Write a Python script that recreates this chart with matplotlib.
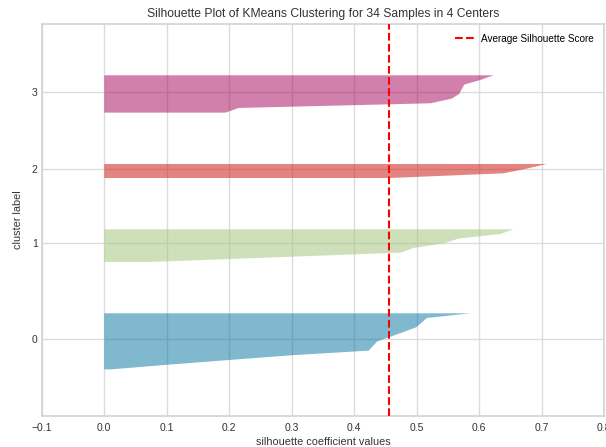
import numpy as np
import matplotlib
matplotlib.use("Agg")
import matplotlib.pyplot as plt

plt.rcParams['font.family'] = ['Liberation Sans', 'DejaVu Sans']

# Silhouette coefficients per cluster (sorted ascending)
cluster_0 = [0.012, 0.103, 0.200, 0.298, 0.423, 0.430, 0.437, 0.458, 0.479, 0.499, 0.508, 0.516, 0.586]
cluster_1 = [0.074, 0.274, 0.474, 0.495, 0.543, 0.567, 0.634, 0.655]
cluster_2 = [0.458, 0.639, 0.676, 0.708]
cluster_3 = [0.194, 0.215, 0.522, 0.556, 0.568, 0.572, 0.576, 0.602, 0.623]
clusters = [cluster_0, cluster_1, cluster_2, cluster_3]
cluster_labels = ["0", "1", "2", "3"]
colors = ["#0272a2", "#9fc377", "#ca0b03", "#a50258"]
avg_score = 0.455
x_ticks = [-0.1, 0.0, 0.1, 0.2, 0.3, 0.4, 0.5, 0.6, 0.7, 0.8]

fig = plt.figure(figsize=(6.06, 4.47), dpi=100)
ax = fig.add_axes([0.069, 0.0694, 0.928, 0.877])

n_samples = sum(len(c) for c in clusters)
y_lower = 10
ytick_pos = []
for vals, col in zip(clusters, colors):
    vals = np.sort(np.asarray(vals))
    size = len(vals)
    y_upper = y_lower + size
    ax.fill_betweenx(np.arange(y_lower, y_upper), 0, vals,
                     facecolor=col, edgecolor="none", alpha=0.5, linewidth=0)
    ytick_pos.append(y_lower + 0.5 * size)
    y_lower = y_upper + 10

ax.axvline(x=avg_score, color="red", linestyle="--", linewidth=1.5,
           label="Average Silhouette Score", zorder=3)

ax.set_xlim(-0.1, 0.8)
ax.set_ylim(0, n_samples + (len(clusters) + 1) * 10)
ax.set_xticks(x_ticks)
ax.set_xticklabels([f"{t:.1f}".replace("-", "\u2212") for t in x_ticks])
ax.set_yticks(ytick_pos)
ax.set_yticklabels(cluster_labels)
ax.tick_params(length=0, labelsize=7.5, colors="#333333")
ax.tick_params(axis="x", pad=5)
ax.tick_params(axis="y", pad=3)

ax.grid(True, color="#dcdcdc", linewidth=1)
ax.set_axisbelow(True)
for sp in ax.spines.values():
    sp.set_color("#d3d3d3")
    sp.set_linewidth(1.2)

ax.set_title("Silhouette Plot of KMeans Clustering for 34 Samples in 4 Centers",
             fontsize=8.7, color="#333333", pad=5)
ax.set_xlabel("silhouette coefficient values", fontsize=7.8, color="#333333", labelpad=3)
ax.set_ylabel("cluster label", fontsize=7.8, color="#333333", labelpad=6)

leg = ax.legend(loc="upper right", frameon=False, fontsize=7.2,
                handlelength=2.0, handletextpad=0.6, borderaxespad=0.6)

fig.savefig("out.png", dpi=100)
